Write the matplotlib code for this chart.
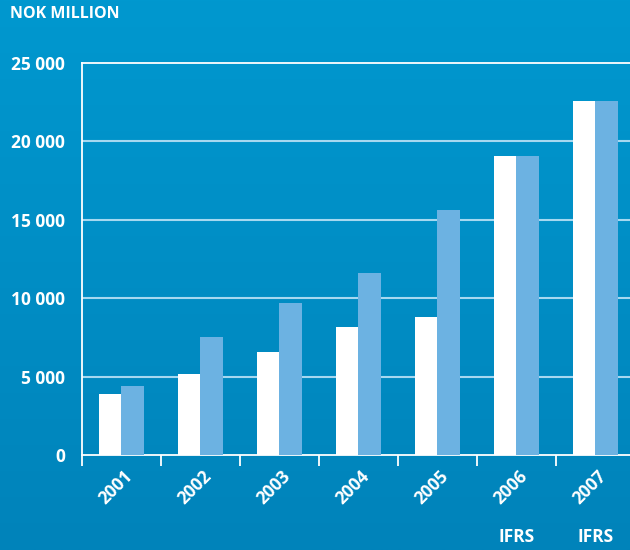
import matplotlib
matplotlib.use("Agg")
import matplotlib.pyplot as plt
from matplotlib.colors import LinearSegmentedColormap
import matplotlib.transforms as mtrans
import numpy as np

years = ["2001", "2002", "2003", "2004", "2005", "2006", "2007"]
series_white = [3900, 5150, 6550, 8150, 8800, 19050, 22600]
series_blue = [4400, 7500, 9700, 11600, 15600, 19050, 22600]
ifrs_years = ["2006", "2007"]
yticks = [0, 5000, 10000, 15000, 20000, 25000]

plt.rcParams['font.family'] = ['Open Sans', 'DejaVu Sans']

fig = plt.figure(figsize=(6.3, 5.5), dpi=100)

# background gradient, lighter at the top
bg = fig.add_axes([0, 0, 1, 1], zorder=0)
grad = np.linspace(0, 1, 256).reshape(-1, 1)
cmap = LinearSegmentedColormap.from_list("bg", ["#0098cf", "#0083ba"])
bg.imshow(grad, aspect="auto", cmap=cmap, extent=[0, 1, 0, 1], origin="upper")
bg.set_axis_off()

ax = fig.add_axes([0.1302, 0.1727, 0.878, 0.7128], zorder=1)
ax.patch.set_alpha(0)

x = np.arange(len(years))
w = 0.285
ax.bar(x - w / 2 - 0.005, series_white, width=w, color="white", zorder=3)
ax.bar(x + w / 2 - 0.005, series_blue, width=w, color="#6cb2e2", zorder=3)

ax.set_xlim(-0.5, len(years) - 0.5)
ax.set_ylim(0, 25000)

ax.set_yticks(yticks)
ax.set_yticklabels([f"{v:,}".replace(",", " ") for v in yticks])
for v in yticks[1:-1]:
    ax.axhline(v, color="#a6d8f0", lw=1.5, zorder=1)

ax.spines["right"].set_visible(False)
for side in ["left", "bottom", "top"]:
    ax.spines[side].set_color("white")
    ax.spines[side].set_linewidth(1.3)

ax.tick_params(axis="y", length=0, pad=12, labelcolor="white", labelsize=12.5)
ax.set_xticks(x)
ax.set_xticklabels(years, rotation=45, ha="right", va="top",
                   rotation_mode="anchor", color="white", fontsize=12.5,
                   fontweight="bold")
ax.tick_params(axis="x", which="major", length=0, pad=9)
ax.set_xticks(np.arange(len(years)) - 0.5, minor=True)
ax.tick_params(axis="x", which="minor", length=8, width=1.3, color="white",
               direction="out")
shift = mtrans.ScaledTranslation(0.02, 0, fig.dpi_scale_trans)
for lab in ax.get_xticklabels():
    lab.set_transform(lab.get_transform() + shift)
for lab in ax.get_yticklabels():
    lab.set_fontweight("bold")

fig.text(0.016, 0.974, "NOK MILLION", color="white", fontsize=11.5,
         fontweight="bold", ha="left", va="center")

for yr in ifrs_years:
    i = years.index(yr)
    ax.text(i, -0.209, "IFRS", transform=ax.get_xaxis_transform(),
            color="white", fontsize=12.5, fontweight="bold",
            ha="center", va="center")

fig.savefig("out.png", dpi=100)
